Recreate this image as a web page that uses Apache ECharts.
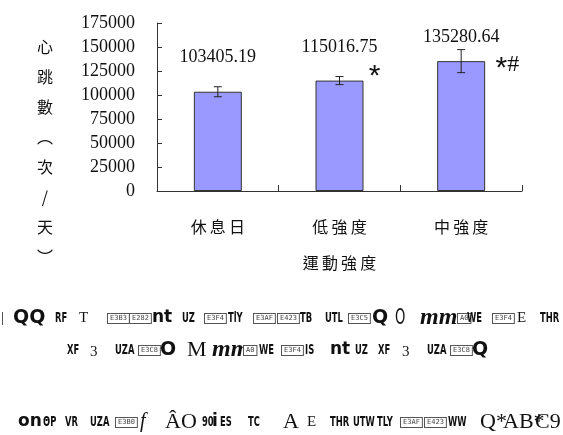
<!DOCTYPE html>
<html>
<head>
<meta charset="utf-8">
<script src="https://cdn.jsdelivr.net/npm/echarts@6/dist/echarts.min.js"></script>
<style>
  html, body { margin: 0; padding: 0; background: #fff; }
  #chart { width: 563px; height: 435px; }
</style>
</head>
<body>
<div id="chart"></div>
<script>
"use strict";

// Data
const categories = ["休息日", "低強度", "中強度"];
const meanValues = [103405.19, 115016.75, 135280.64];
const errorValues = [5200, 4200, 12000];
const sigMarks = ["", "*", "*#"];
const yMin = 0;
const yMax = 175000;
const yStep = 25000;
const yAxisTitle = "心跳數︵次/天︶";
const xAxisTitle = "運動強度";

// Placement tweaks (styles, not data)
const labelGaps = [25, 24, 15];
const sigOffsets = [[0, 0], [5, -4], [10, 8]];

// Garbled footer text as it shows in the picture: [x, y, text, style]
const footerChunks = [
  [1, 318, "|", "serif"], [13, 318, "QQ", "round"], [55, 318, "RF", "cond"], [79, 318, "T", "serif"],
  [107, 318, "E3B3", "box"], [129, 318, "E282", "box"], [152, 318, "nt", "sansB"], [182, 318, "UZ", "cond"],
  [204, 318, "E3F4", "box"], [228, 318, "TlY", "cond"], [253, 318, "E3AF", "box"], [277, 318, "E423", "box"],
  [300, 318, "TB", "cond"], [325, 318, "UTL", "cond"], [348, 318, "E3C5", "box"], [372, 318, "Q", "round"],
  [395, 318, "O", "tall"], [420, 318, "mm", "italicB"], [457, 318, "A0", "box"], [467, 318, "WE", "cond"],
  [492, 318, "E3F4", "box"], [517, 318, "E", "serif"], [540, 318, "THR", "cond"],

  [67, 350, "XF", "cond"], [90, 352, "3", "serif"], [115, 350, "UZA", "cond"], [138, 350, "E3C8", "box"],
  [160, 350, "O", "round"], [187, 350, "M", "serifL"], [212, 350, "mm", "italicB"], [243, 350, "A0", "box"],
  [259, 350, "WE", "cond"], [281, 350, "E3F4", "box"], [305, 350, "IS", "cond"], [330, 350, "nt", "sansB"],
  [355, 350, "UZ", "cond"], [378, 350, "XF", "cond"], [402, 352, "3", "serif"], [427, 350, "UZA", "cond"],
  [450, 350, "E3C8", "box"], [472, 350, "Q", "round"],

  [18, 422, "on", "sansB"], [43, 422, "ΘP", "cond"], [65, 422, "VR", "cond"], [90, 422, "UZA", "cond"],
  [115, 422, "E3B0", "box"], [140, 422, "f", "italic"], [165, 422, "ÂO", "serifL"], [202, 422, "90", "cond"],
  [212, 422, "i", "sansB"], [220, 422, "ES", "cond"], [248, 422, "TC", "cond"], [283, 422, "A", "serifL"],
  [307, 422, "E", "serif"], [330, 422, "THR", "cond"], [353, 422, "UTW", "cond"], [377, 422, "TLY", "cond"],
  [400, 422, "E3AF", "box"], [424, 422, "E423", "box"], [448, 422, "WW", "cond"], [480, 422, "Q*", "serifL"],
  [503, 422, "AB*", "serifL"], [535, 422, "C9", "serifL"]
];

const footerStyles = {
  round: { fontFamily: "DejaVu Sans", fontWeight: "bold", fontSize: 19 },
  cond: { fontFamily: "DejaVu Sans", fontWeight: "bold", fontSize: 14 },
  serif: { fontFamily: "Liberation Serif", fontSize: 15 },
  serifL: { fontFamily: "Liberation Serif", fontSize: 22 },
  sansB: { fontFamily: "DejaVu Sans", fontWeight: "bold", fontSize: 17 },
  italicB: { fontFamily: "Liberation Serif", fontWeight: "bold", fontStyle: "italic", fontSize: 24 },
  italic: { fontFamily: "Liberation Serif", fontStyle: "italic", fontSize: 20 },
  tall: { fontFamily: "DejaVu Sans", fontSize: 22 }
};
// horizontal squeeze per style, the picture's glyphs are narrow
const footerScale = { cond: 0.6, tall: 0.6 };

const thin = "\u2009";
function spaced(s) {
  return s.split("").join(thin);
}

function footerGraphic() {
  return footerChunks.map(function (c) {
    const st = footerStyles[c[3]];
    if (c[3] === "box") {
      return {
        type: "text", left: c[0], top: c[1] - 5, silent: true,
        style: {
          text: c[2], fontFamily: "DejaVu Sans Mono", fontSize: 7, fill: "#444",
          backgroundColor: "#fff", borderColor: "#555", borderWidth: 1, padding: [1, 2]
        }
      };
    }
    return {
      type: "text", x: c[0], y: c[1], silent: true,
      scaleX: footerScale[c[3]] || 1,
      style: Object.assign({
        text: c[2], fill: "#111", textVerticalAlign: "middle", textAlign: "left"
      }, st)
    };
  });
}

function renderErrorBar(params, api) {
  const i = params.dataIndex;
  const x = api.value(0);
  const m = api.value(1);
  const e = api.value(2);
  const hi = api.coord([x, m + e]);
  const lo = api.coord([x, m - e]);
  const mid = api.coord([x, m]);
  const cap = 4;
  const lineStyle = { stroke: "#222", lineWidth: 1 };
  const children = [
    { type: "line", shape: { x1: hi[0], y1: hi[1], x2: lo[0], y2: lo[1] }, style: lineStyle },
    { type: "line", shape: { x1: hi[0] - cap, y1: hi[1], x2: hi[0] + cap, y2: hi[1] }, style: lineStyle },
    { type: "line", shape: { x1: lo[0] - cap, y1: lo[1], x2: lo[0] + cap, y2: lo[1] }, style: lineStyle }
  ];
  if (sigMarks[i]) {
    const half = api.size([1, 0])[0] * 0.2;
    const off = sigOffsets[i];
    children.push({
      type: "text",
      x: mid[0] + half + off[0],
      y: mid[1] + off[1],
      style: {
        text: sigMarks[i].split("").map(function (ch) {
          return ch === "*" ? "{a|*}" : "{b|" + ch + "}";
        }).join(""),
        rich: {
          a: { fontFamily: "Liberation Sans", fontSize: 30, fill: "#111" },
          b: { fontFamily: "Liberation Serif", fontSize: 24, fill: "#111", padding: [0, 0, 8, 0] }
        },
        textVerticalAlign: "middle",
        textAlign: "left"
      }
    });
  }
  return { type: "group", children: children };
}

const chart = echarts.init(document.getElementById("chart"), null, { renderer: "canvas" });

chart.setOption({
  animation: false,
  backgroundColor: "#fff",
  grid: { left: 157, right: 41, top: 23, bottom: 244, outerBoundsMode: "none" },
  xAxis: {
    type: "category",
    data: categories.map(spaced),
    axisLine: { show: true, lineStyle: { color: "#333", width: 1 } },
    axisTick: { show: true, inside: true, length: 6, lineStyle: { color: "#333" } },
    axisLabel: { margin: 28, fontFamily: "Noto Sans CJK TC", fontSize: 16, color: "#111" },
    name: spaced(xAxisTitle),
    nameLocation: "middle",
    nameGap: 64,
    nameTextStyle: { fontFamily: "Noto Sans CJK TC", fontSize: 16, color: "#111" }
  },
  yAxis: {
    type: "value",
    min: yMin,
    max: yMax,
    interval: yStep,
    axisLine: { show: true, lineStyle: { color: "#333", width: 1 } },
    axisTick: { show: true, inside: true, length: 5, lineStyle: { color: "#333" } },
    splitLine: { show: false },
    axisLabel: {
      margin: 22, fontFamily: "Liberation Serif", fontSize: 18, color: "#111",
      formatter: function (v) { return String(v); }
    },
    // leading blank lines push the vertical title down to where it sits in the picture
    name: "\n\n\n" + yAxisTitle.split("").join("\n"),
    nameLocation: "middle",
    nameRotate: 0,
    nameGap: 112,
    nameTextStyle: {
      fontFamily: "Noto Sans CJK TC", fontSize: 16, color: "#111",
      lineHeight: 30, align: "center"
    }
  },
  series: [
    {
      type: "bar",
      barWidth: 48,
      data: meanValues.map(function (v, i) {
        return { value: v, label: { distance: labelGaps[i] } };
      }),
      itemStyle: { color: "#9999FF", borderColor: "#333", borderWidth: 1 },
      label: {
        show: true,
        position: "top",
        fontFamily: "Liberation Serif",
        fontSize: 18,
        color: "#111",
        formatter: function (p) { return p.value.toFixed(2); }
      }
    },
    {
      type: "custom",
      renderItem: renderErrorBar,
      encode: { x: 0, y: 1 },
      data: meanValues.map(function (v, i) { return [i, v, errorValues[i]]; }),
      z: 5
    }
  ],
  graphic: footerGraphic()
});
</script>
</body>
</html>
